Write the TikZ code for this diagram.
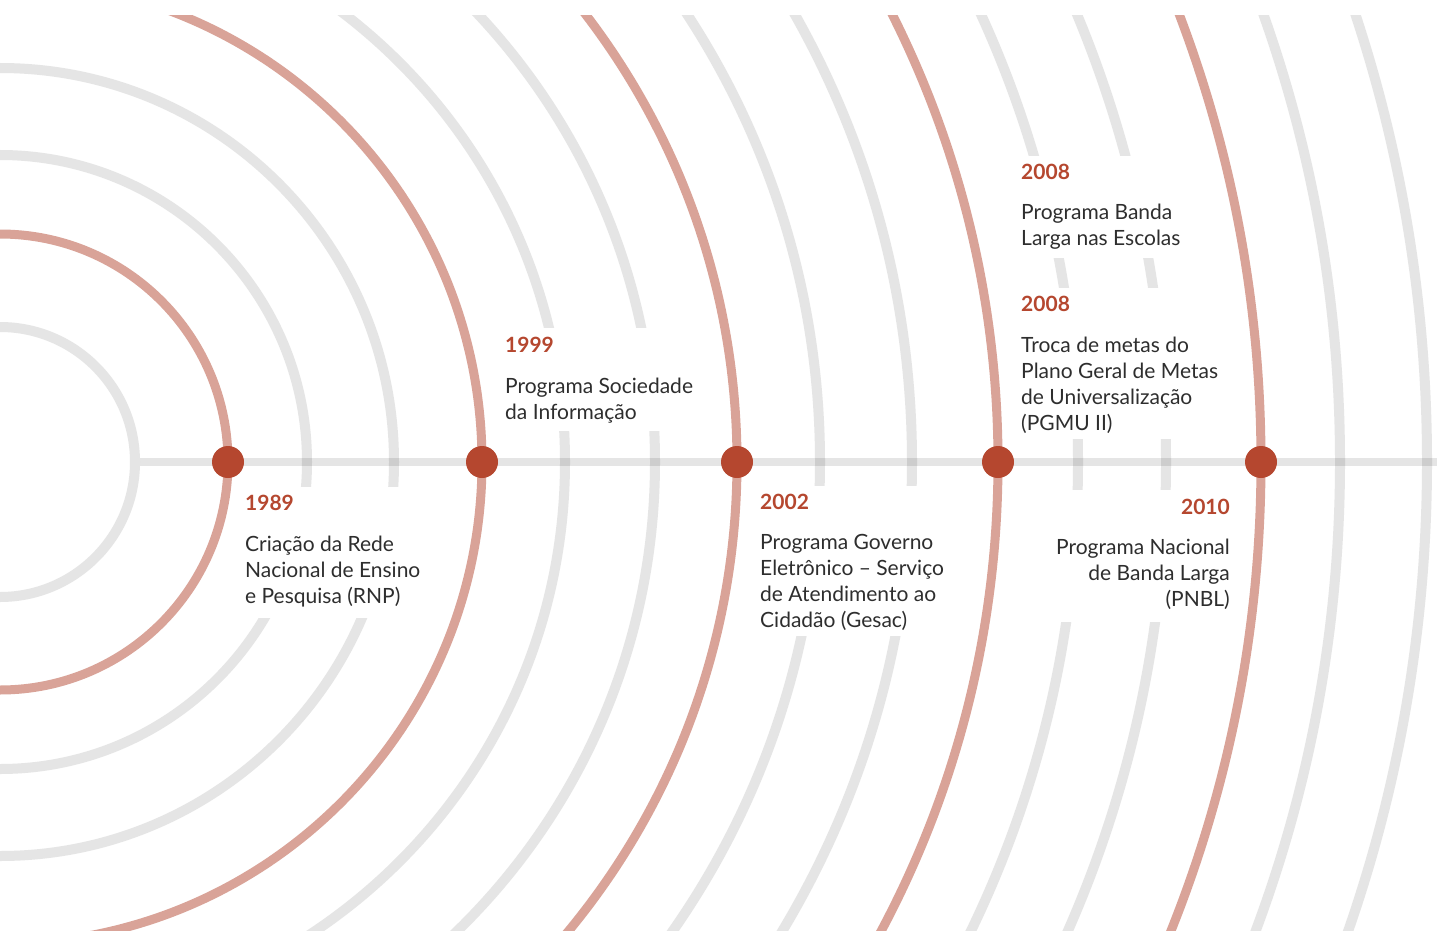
\documentclass[tikz,border=0pt]{standalone}
\usepackage{fontspec}
\setmainfont{Lato}
\definecolor{arcgray}{HTML}{E5E5E5}
\definecolor{arcred}{HTML}{D9A398}
\definecolor{dotred}{HTML}{B5472F}
\definecolor{txt}{HTML}{2E2E2E}
\tikzset{
  grayarc/.style={draw=arcgray, line width=10pt},
  redarc/.style={draw=arcred, line width=9pt},
  axisline/.style={draw=black, draw opacity=0.1, line width=8pt},
  maskbox/.style={fill=white, draw=none},
  evdot/.style={circle, fill=dotred, minimum size=32pt, inner sep=0pt},
  year/.style={anchor=base west, font=\fontsize{21}{25.7}\selectfont\bfseries, text=dotred, inner sep=0pt},
  body/.style={anchor=base west, align=left, font=\fontsize{21}{25.7}\selectfont, text=txt, inner sep=0pt},
  bodyr/.style={anchor=base east, align=right, font=\fontsize{21}{25.7}\selectfont, text=txt, inner sep=0pt},
  yearr/.style={anchor=base east, font=\fontsize{21}{25.7}\selectfont\bfseries, text=dotred, inner sep=0pt},
}
\begin{document}
\begin{tikzpicture}[x=1pt,y=-1pt]
\useasboundingbox[fill=white] (0,0) rectangle (1437,931);
\coordinate (c) at (0,462);
\begin{scope}
\clip (0,16) rectangle (1437,931);
% gray arcs
\foreach \r in {135,307,394,565,655,820,912,1078,1166,1340,1427}
  \draw[grayarc] (c) circle (\r pt);
% axis
\coordinate (axs) at (140,462);
\coordinate (axe) at (1437,462);
\draw[axisline] (axs) -- (axe);
% masks behind text
\fill[maskbox] (238,487) rectangle (440,618);
\fill[maskbox] (495,328) rectangle (720,431);
\fill[maskbox] (750,486) rectangle (965,636);
\fill[maskbox] (1010,156) rectangle (1200,258);
\fill[maskbox] (1010,288) rectangle (1200,439);
\fill[maskbox] (1035,490) rectangle (1240,622);
% red arcs
\foreach \r in {228,482,737,998,1261}
  \draw[redarc] (c) circle (\r pt);
\end{scope}
% dots
\node[evdot] (d1) at (228,462) {};
\node[evdot] (d2) at (482,462) {};
\node[evdot] (d3) at (737,462) {};
\node[evdot] (d4) at (998,462) {};
\node[evdot] (d5) at (1261,462) {};
% texts (body nodes anchored at the baseline of their last line)
\node[year] (y1) at (245,510) {1989};
\node[body] (t1) at (245,603) {Criação da Rede\\Nacional de Ensino\\e Pesquisa (RNP)};
\node[year] (y2) at (505,352) {1999};
\node[body] (t2) at (505,419) {Programa Sociedade\\da Informação};
\node[year] (y3) at (760,509) {2002};
\node[body] (t3) at (760,627) {Programa Governo\\Eletrônico – Serviço\\de Atendimento ao\\Cidadão (Gesac)};
\node[year] (y4) at (1021,179) {2008};
\node[body] (t4) at (1021,245) {Programa Banda\\Larga nas Escolas};
\node[year] (y5) at (1021,311) {2008};
\node[body] (t5) at (1021,430) {Troca de metas do\\Plano Geral de Metas\\de Universalização\\(PGMU II)};
\node[yearr] (y6) at (1230,514) {2010};
\node[bodyr] (t6) at (1230,606) {Programa Nacional\hspace{6pt}\\de Banda Larga\hspace{6pt}\\(PNBL)};
\end{tikzpicture}
\end{document}
